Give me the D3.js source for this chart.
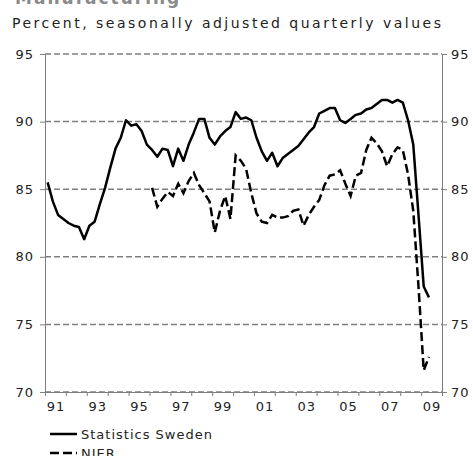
<!DOCTYPE html>
<html>
<head>
<meta charset="utf-8">
<script src="https://cdn.jsdelivr.net/npm/d3@7"></script>
<style>
  body { margin: 0; background: #fff; }
  svg text { font-family: "DejaVu Sans", Verdana, sans-serif; }
</style>
</head>
<body>
<div id="grafica"></div>
<script>
// Datos del grafico (valores trimestrales)
var yTicks = [70, 75, 80, 85, 90, 95]
var labelYears = [1991, 1993, 1995, 1997, 1999, 2001, 2003, 2005, 2007, 2009]
var xTickLabels = ["91", "93", "95", "97", "99", "01", "03", "05", "07", "09"]

// Statistics Sweden, 1991Q1 - 2009Q2
var ssStart = 1991
var statisticsSweden = [85.5, 84.1, 83.1, 82.8, 82.5, 82.3, 82.2, 81.3, 82.3, 82.6,
    83.9, 85.1, 86.6, 88.0, 88.8, 90.1, 89.7, 89.8, 89.3, 88.3,
    87.9, 87.4, 88.0, 87.9, 86.7, 88.0, 87.1, 88.3, 89.2, 90.2,
    90.2, 88.8, 88.3, 88.9, 89.3, 89.6, 90.7, 90.2, 90.3, 90.1,
    88.8, 87.8, 87.1, 87.7, 86.7, 87.3, 87.6, 87.9, 88.2, 88.7,
    89.2, 89.6, 90.6, 90.8, 91.0, 91.0, 90.1, 89.9, 90.2, 90.5,
    90.6, 90.9, 91.0, 91.3, 91.6, 91.6, 91.4, 91.6, 91.4, 90.1,
    88.3, 83.1, 77.8, 77.0]

// NIER, 1996Q1 - 2009Q2
var nierStart = 1996
var nier = [85.1, 83.7, 84.3, 84.8, 84.5, 85.4, 84.7, 85.6, 86.2, 85.3,
    84.7, 84.1, 81.8, 83.4, 84.5, 82.8, 87.5, 87.1, 86.5, 84.7,
    83.2, 82.6, 82.5, 83.1, 82.9, 82.9, 83.0, 83.4, 83.5, 82.3,
    83.1, 83.7, 84.2, 85.3, 86.0, 86.1, 86.4, 85.4, 84.5, 86.0,
    86.2, 87.9, 88.8, 88.4, 87.8, 86.7, 87.6, 88.1, 87.9, 86.1,
    83.4, 77.8, 71.6, 72.6]

var width = 473
var height = 456
var gris = "#7f7f7f"

// convierte la serie en puntos [fecha, valor] (mitad de cada trimestre)
function trimestres(inicio, valores) {
    return valores.map((v, i) => [inicio + (i + 0.5) / 4, v])
}

var x = d3.scaleLinear().domain([1991, 2010]).range([45, 442])
var y = d3.scaleLinear().domain([70, 95]).range([392, 54])

var svg = d3.select("#grafica")
    .append("svg")
    .attr("width", width)
    .attr("height", height)

// titulo (cortado arriba) y subtitulo
svg.append("text")
    .attr("x", 15).attr("y", 4)
    .attr("font-size", 17).attr("font-weight", "bold")
    .attr("letter-spacing", 2)
    .attr("fill", "#8a8a8a")
    .text("Manufacturing")

svg.append("text")
    .attr("x", 12).attr("y", 28)
    .attr("font-size", 14)
    .attr("letter-spacing", 2.5)
    .attr("fill", "#222")
    .text("Percent, seasonally adjusted quarterly values")

// lineas de rejilla discontinuas
svg.append("g")
    .selectAll("line")
    .data(yTicks)
    .join("line")
    .attr("x1", x(1991)).attr("x2", x(2010))
    .attr("y1", d => y(d)).attr("y2", d => y(d))
    .attr("stroke", gris)
    .attr("stroke-width", 1.5)
    .attr("stroke-dasharray", "6,3")

function estiloEje(g) {
    g.select(".domain").attr("stroke", gris)
    g.selectAll(".tick line").attr("stroke", gris)
    g.selectAll("text")
        .attr("font-size", 13)
        .attr("letter-spacing", 1)
        .attr("fill", "#222")
        .attr("font-family", null)
}

svg.append("g")
    .attr("transform", `translate(${x(1991)},0)`)
    .call(d3.axisLeft(y).tickValues(yTicks).tickSize(5).tickSizeOuter(0).tickPadding(6))
    .call(estiloEje)
    .attr("font-family", null)

svg.append("g")
    .attr("transform", `translate(${x(2010)},0)`)
    .call(d3.axisRight(y).tickValues(yTicks).tickSize(5).tickSizeOuter(0).tickPadding(4))
    .call(estiloEje)
    .attr("font-family", null)

// eje x: marcas en cada inicio de año, etiquetas centradas en el año
svg.append("g")
    .attr("transform", `translate(0,${y(70)})`)
    .call(d3.axisBottom(x).tickValues(d3.range(1991, 2011)).tickSize(4).tickSizeOuter(0).tickFormat(""))
    .call(estiloEje)

svg.append("g")
    .attr("transform", `translate(0,${y(70)})`)
    .call(d3.axisBottom(x).tickValues(labelYears.map(d => d + 0.5)).tickSize(0).tickPadding(10)
        .tickFormat((d, i) => xTickLabels[i]))
    .call(estiloEje)
    .call(g => g.select(".domain").remove())
    .attr("font-family", null)

var linea = d3.line().x(d => x(d[0])).y(d => y(d[1]))

svg.append("path")
    .datum(trimestres(ssStart, statisticsSweden))
    .attr("fill", "none")
    .attr("stroke", "#000")
    .attr("stroke-width", 2.5)
    .attr("stroke-linejoin", "round")
    .attr("d", linea)

svg.append("path")
    .datum(trimestres(nierStart, nier))
    .attr("fill", "none")
    .attr("stroke", "#000")
    .attr("stroke-width", 2.5)
    .attr("stroke-dasharray", "9,4")
    .attr("d", linea)

// leyenda
var leyenda = [
    {nombre: "Statistics Sweden", dash: null, y: 434},
    {nombre: "NIER", dash: "9,4", y: 453}
]
var gl = svg.append("g")
gl.selectAll("line")
    .data(leyenda)
    .join("line")
    .attr("x1", 50).attr("x2", 77)
    .attr("y1", d => d.y).attr("y2", d => d.y)
    .attr("stroke", "#000")
    .attr("stroke-width", 2.5)
    .attr("stroke-dasharray", d => d.dash)
gl.selectAll("text")
    .data(leyenda)
    .join("text")
    .attr("x", 81)
    .attr("y", d => d.y + 4.5)
    .attr("font-size", 13)
    .attr("letter-spacing", 1)
    .attr("fill", "#222")
    .text(d => d.nombre)
</script>
</body>
</html>
